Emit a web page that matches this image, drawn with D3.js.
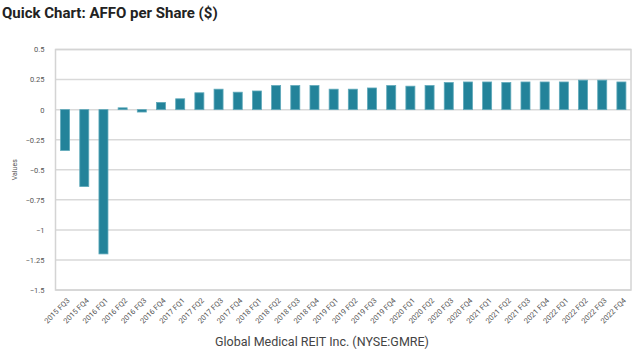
<!DOCTYPE html>
<html lang="en">
<head>
    <meta charset="UTF-8">
    <title>Quick Chart: AFFO per Share ($)</title>
    <script src="https://d3js.org/d3.v7.min.js"></script>
    <style>
        body {
            margin: 0;
            background: #ffffff;
            font-family: Roboto, "Liberation Sans", Arial, sans-serif;
        }
        .grid line {
            stroke: #d9d9d9;
            stroke-width: 1.5;
        }
        .tick text {
            fill: #555;
        }
    </style>
</head>
<body>
    <div id="chart"></div>
    <script>
        // quarters and AFFO per share values
        const quarters = [
            "2015 FQ3", "2015 FQ4",
            "2016 FQ1", "2016 FQ2", "2016 FQ3", "2016 FQ4",
            "2017 FQ1", "2017 FQ2", "2017 FQ3", "2017 FQ4",
            "2018 FQ1", "2018 FQ2", "2018 FQ3", "2018 FQ4",
            "2019 FQ1", "2019 FQ2", "2019 FQ3", "2019 FQ4",
            "2020 FQ1", "2020 FQ2", "2020 FQ3", "2020 FQ4",
            "2021 FQ1", "2021 FQ2", "2021 FQ3", "2021 FQ4",
            "2022 FQ1", "2022 FQ2", "2022 FQ3", "2022 FQ4"
        ];
        const affo = [
            -0.34, -0.64,
            -1.2, 0.015, -0.02, 0.06,
            0.09, 0.14, 0.17, 0.145,
            0.155, 0.2, 0.2, 0.2,
            0.17, 0.17, 0.18, 0.2,
            0.195, 0.2, 0.225, 0.23,
            0.23, 0.225, 0.23, 0.23,
            0.23, 0.245, 0.245, 0.23
        ];
        const yTicks = [0.5, 0.25, 0, -0.25, -0.5, -0.75, -1, -1.25, -1.5];

        const width = 640, height = 364;
        const margin = { top: 49.5, right: 9, bottom: 74, left: 55.5 };
        const chartWidth = width - margin.left - margin.right;
        const chartHeight = height - margin.top - margin.bottom;

        const svg = d3.select("#chart").append("svg")
            .attr("width", width)
            .attr("height", height);

        // title
        svg.append("text")
            .attr("x", 2)
            .attr("y", 18)
            .style("font-size", "15px")
            .style("font-weight", "bold")
            .style("fill", "#222")
            .text("Quick Chart: AFFO per Share ($)");

        const g = svg.append("g")
            .attr("transform", `translate(${margin.left}, ${margin.top})`);

        const x = d3.scaleBand()
            .domain(quarters)
            .range([0, chartWidth])
            .paddingInner(0.53)
            .paddingOuter(0.265);

        const y = d3.scaleLinear()
            .domain([-1.5, 0.5])
            .range([chartHeight, 0]);

        // gridlines
        g.append("g")
            .attr("class", "grid")
            .selectAll("line")
            .data(yTicks)
            .enter().append("line")
            .attr("x1", 0)
            .attr("x2", chartWidth)
            .attr("y1", d => y(d))
            .attr("y2", d => y(d));

        // frame
        g.append("rect")
            .attr("x", 0)
            .attr("y", 0)
            .attr("width", chartWidth)
            .attr("height", chartHeight)
            .attr("fill", "none")
            .attr("stroke", "#d4d4d4")
            .attr("stroke-width", 1.5);

        // y axis
        const yAxis = g.append("g")
            .attr("transform", "translate(-8, 0)")
            .call(d3.axisLeft(y).tickValues(yTicks).tickSize(0).tickFormat(d3.format("")));
        yAxis.select(".domain").remove();
        yAxis.selectAll("text")
            .style("font-size", "7.5px")
            .style("font-family", "Roboto, Arial, sans-serif");

        svg.append("text")
            .attr("transform", `translate(17, ${margin.top + chartHeight / 2}) rotate(-90)`)
            .attr("text-anchor", "middle")
            .style("font-size", "7px")
            .style("fill", "#555")
            .text("Values");

        // x axis labels
        const xAxis = g.append("g")
            .attr("transform", `translate(0, ${chartHeight})`)
            .call(d3.axisBottom(x).tickSize(0));
        xAxis.select(".domain").remove();
        xAxis.selectAll("text")
            .attr("text-anchor", "end")
            .attr("dx", "0")
            .attr("dy", "0")
            .attr("transform", "translate(3, 9) rotate(-45)")
            .style("font-size", "7.5px")
            .style("font-family", "Roboto, Arial, sans-serif");

        // bars
        g.selectAll(".bar")
            .data(affo)
            .enter().append("rect")
            .attr("class", "bar")
            .attr("x", (d, i) => x(quarters[i]))
            .attr("y", d => y(Math.max(0, d)))
            .attr("width", x.bandwidth())
            .attr("height", d => Math.abs(y(d) - y(0)))
            .attr("fill", "#23839a")
            .attr("stroke", "#5fa9ba")
            .attr("stroke-width", 0.8);

        // company caption
        svg.append("text")
            .attr("x", 322)
            .attr("y", 346)
            .attr("text-anchor", "middle")
            .style("font-size", "12.5px")
            .style("fill", "#444")
            .text("Global Medical REIT Inc. (NYSE:GMRE)");
    </script>
</body>
</html>
